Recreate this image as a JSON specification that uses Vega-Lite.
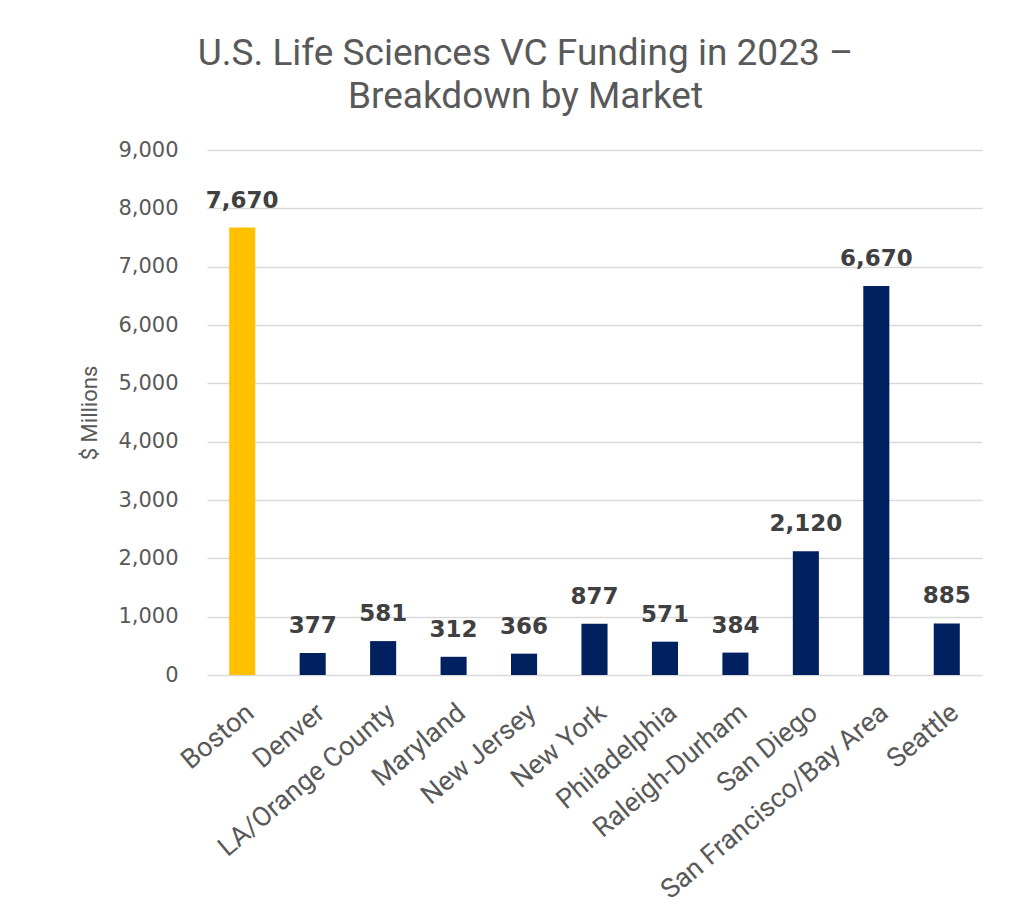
{
  "$schema": "https://vega.github.io/schema/vega-lite/v6.json",
  "autosize": {"type": "none"},
  "width": 775,
  "height": 525,
  "padding": {"left": 207, "top": 150, "right": 43, "bottom": 238},
  "background": "white",
  "title": {
    "text": ["U.S. Life Sciences VC Funding in 2023 –", "Breakdown by Market"],
    "font": "Roboto",
    "fontSize": 37,
    "fontWeight": "normal",
    "color": "#595959",
    "anchor": "middle",
    "dx": -69,
    "lineHeight": 43,
    "offset": 23
  },
  "data": {
    "values": [
      {"market": "Boston", "value": 7670, "highlight": "yes"},
      {"market": "Denver", "value": 377, "highlight": "no"},
      {"market": "LA/Orange County", "value": 581, "highlight": "no"},
      {"market": "Maryland", "value": 312, "highlight": "no"},
      {"market": "New Jersey", "value": 366, "highlight": "no"},
      {"market": "New York", "value": 877, "highlight": "no"},
      {"market": "Philadelphia", "value": 571, "highlight": "no"},
      {"market": "Raleigh-Durham", "value": 384, "highlight": "no"},
      {"market": "San Diego", "value": 2120, "highlight": "no"},
      {"market": "San Francisco/Bay Area", "value": 6670, "highlight": "no"},
      {"market": "Seattle", "value": 885, "highlight": "no"}
    ]
  },
  "encoding": {
    "x": {
      "field": "market",
      "type": "nominal",
      "sort": null,
      "scale": {"paddingInner": 0.63, "paddingOuter": 0.315},
      "axis": {
        "title": null,
        "labelAngle": -40,
        "labelFont": "Roboto",
        "labelFontSize": 27,
        "labelColor": "#595959",
        "labelPadding": 24,
        "ticks": false,
        "domain": false,
        "labelLimit": 400
      }
    },
    "y": {
      "field": "value",
      "type": "quantitative",
      "scale": {"domain": [0, 9000], "nice": false},
      "axis": {
        "title": "$ Millions",
        "titleFont": "Roboto",
        "titleFontSize": 22,
        "titleFontWeight": "normal",
        "titleColor": "#595959",
        "titlePadding": 16,
        "values": [0, 1000, 2000, 3000, 4000, 5000, 6000, 7000, 8000, 9000],
        "format": ",.0f",
        "labelFont": "DejaVu Sans",
        "labelFontSize": 21,
        "labelColor": "#595959",
        "labelPadding": 29,
        "ticks": false,
        "domain": false,
        "gridColor": "#d9d9d9",
        "gridWidth": 1.5
      }
    }
  },
  "layer": [
    {
      "mark": {"type": "bar"},
      "encoding": {
        "color": {
          "field": "highlight",
          "type": "nominal",
          "scale": {"domain": ["yes", "no"], "range": ["#FFC000", "#002060"]},
          "legend": null
        }
      }
    },
    {
      "mark": {
        "type": "text",
        "baseline": "alphabetic",
        "dy": -20,
        "font": "DejaVu Sans",
        "fontSize": 23,
        "fontWeight": "bold",
        "color": "#404040"
      },
      "encoding": {
        "text": {"field": "value", "type": "quantitative", "format": ",.0f"}
      }
    }
  ],
  "config": {"view": {"stroke": null}}
}
